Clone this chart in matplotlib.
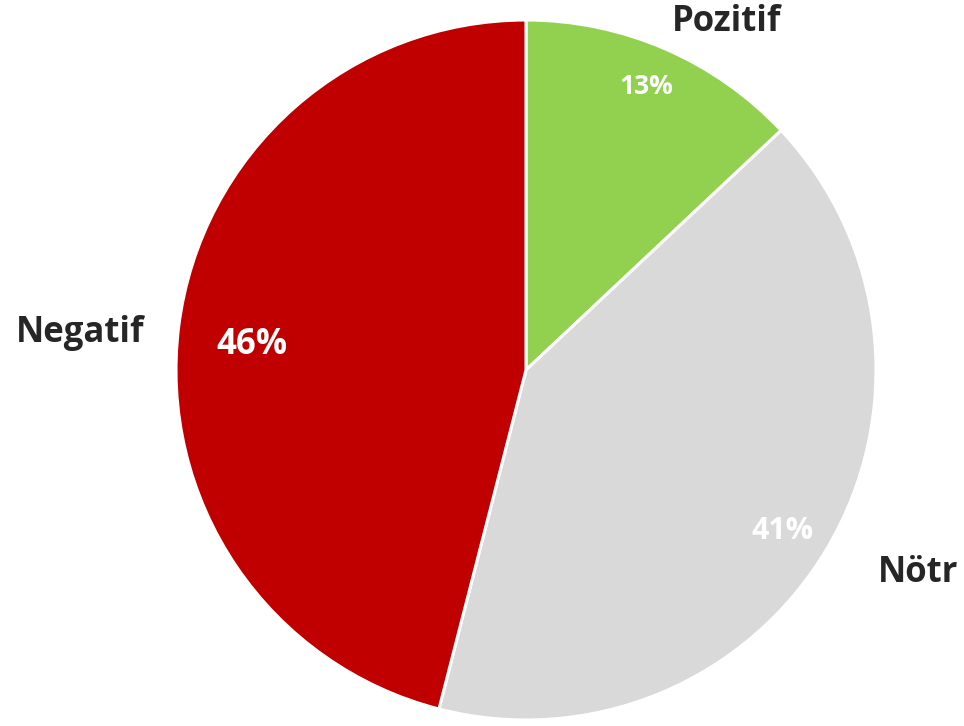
import numpy as np
import matplotlib
matplotlib.use('Agg')
from matplotlib import pyplot as plt

# data
labels = ['Pozitif', 'Nötr', 'Negatif']
values = [13, 41, 46]
colors = ['#92D050', '#D9D9D9', '#C00000']

plt.rcParams['font.family'] = ['Open Sans', 'DejaVu Sans']

W, H = 964, 726
cx, cy, R = 526, 370, 350  # pie centre and radius, pixels

fig = plt.figure(figsize=(W / 100, H / 100), dpi=100)
ax = fig.add_axes([0, 0, 1, 1])

ax.pie(values, colors=colors, startangle=90, counterclock=False, radius=1,
       wedgeprops=dict(edgecolor='white', linewidth=2.2))

# pie() resets the limits, so set them afterwards
ax.set_xlim(-cx / R, (W - cx) / R)
ax.set_ylim(-(H - cy) / R, cy / R)
ax.axis('off')

def px(x, y):
    return (x - cx) / R, (cy - y) / R

# outer category labels
label_pos = [(727, 22), (918, 573), (80, 333)]
for lab, (x, y) in zip(labels, label_pos):
    ax.text(*px(x, y), lab, ha='center', va='center', fontsize=25,
            fontweight='bold', color='#262626')

# percentage labels
pct_pos = [(646, 87), (783, 531), (252, 345)]
pct_size = [19, 22, 25]
for v, (x, y), s in zip(values, pct_pos, pct_size):
    ax.text(*px(x, y), '{}%'.format(v), ha='center', va='center', fontsize=s,
            fontweight='bold', color='white')

fig.savefig('out.png', dpi=100)
